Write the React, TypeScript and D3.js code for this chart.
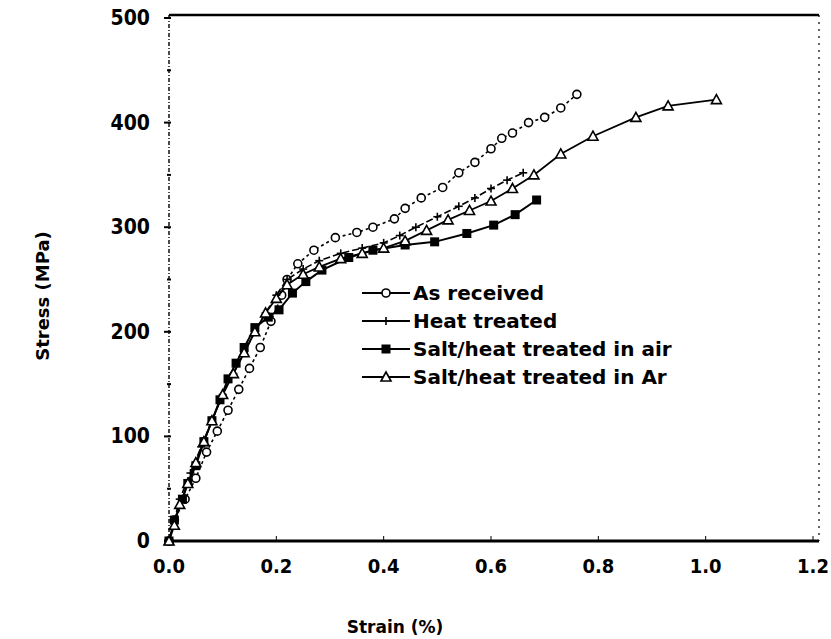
import React from "react";
import * as d3 from "d3";

const xTicks = [0, 0.2, 0.4, 0.6, 0.8, 1.0, 1.2];
const yTicks = [0, 100, 200, 300, 400, 500];

const asReceivedStrain = [0, 0.01, 0.03, 0.05, 0.07, 0.09, 0.11, 0.13, 0.15, 0.17, 0.19, 0.21, 0.22, 0.24, 0.27, 0.31, 0.35, 0.38, 0.42, 0.44, 0.47, 0.51, 0.54, 0.57, 0.6, 0.62, 0.64, 0.67, 0.7, 0.73, 0.76];
const asReceivedStress = [0, 20, 40, 60, 85, 105, 125, 145, 165, 185, 210, 235, 250, 265, 278, 290, 295, 300, 308, 318, 328, 338, 352, 362, 375, 385, 390, 400, 405, 414, 427];

const heatStrain = [0, 0.01, 0.02, 0.04, 0.06, 0.08, 0.1, 0.12, 0.14, 0.16, 0.18, 0.2, 0.22, 0.25, 0.28, 0.32, 0.36, 0.4, 0.43, 0.46, 0.5, 0.54, 0.57, 0.6, 0.63, 0.66];
const heatStress = [0, 20, 40, 65, 90, 115, 140, 160, 180, 200, 218, 235, 250, 260, 268, 275, 280, 285, 292, 300, 310, 320, 328, 337, 345, 352];

const airStrain = [0, 0.01, 0.025, 0.035, 0.05, 0.065, 0.08, 0.095, 0.11, 0.125, 0.14, 0.16, 0.185, 0.205, 0.23, 0.255, 0.285, 0.335, 0.38, 0.44, 0.495, 0.555, 0.605, 0.645, 0.685];
const airStress = [0, 20, 40, 55, 72, 95, 115, 135, 155, 170, 185, 204, 214, 221, 237, 248, 259, 271, 278, 283, 286, 294, 302, 312, 326];

const arStrain = [0, 0.01, 0.02, 0.035, 0.05, 0.065, 0.08, 0.1, 0.12, 0.14, 0.16, 0.18, 0.2, 0.22, 0.25, 0.28, 0.32, 0.36, 0.4, 0.44, 0.48, 0.52, 0.56, 0.6, 0.64, 0.68, 0.73, 0.79, 0.87, 0.93, 1.02];
const arStress = [0, 15, 35, 55, 75, 95, 115, 140, 160, 180, 200, 218, 232, 245, 255, 262, 270, 275, 280, 287, 297, 307, 316, 325, 337, 350, 370, 387, 405, 416, 422];

const seriesNames = ["As received", "Heat treated", "Salt/heat treated in air", "Salt/heat treated in Ar"];

const W = 831, H = 639;
const X0 = 169, X1 = 813, Y0 = 541, Y1 = 18;
const x = d3.scaleLinear().domain([0, 1.2]).range([X0, X1]);
const y = d3.scaleLinear().domain([0, 500]).range([Y0, Y1]);

const tickFont = "'DejaVu Sans Condensed', 'Liberation Sans Narrow', sans-serif";
const legendFont = "'DejaVu Sans', 'Liberation Sans', sans-serif";

type Pt = [number, number];
const zip = (a: number[], b: number[]): Pt[] => a.map((v, i) => [v, b[i]]);

const line = d3.line<Pt>().x(d => x(d[0])).y(d => y(d[1]));

function Marker({ kind, cx, cy }: { kind: number; cx: number; cy: number }) {
  if (kind === 0) return <circle cx={cx} cy={cy} r={4} fill="#fff" stroke="#000" strokeWidth={1.6} />;
  if (kind === 1)
    return (
      <g stroke="#000" strokeWidth={1.6}>
        <line x1={cx - 4} y1={cy} x2={cx + 4} y2={cy} />
        <line x1={cx} y1={cy - 4} x2={cx} y2={cy + 4} />
      </g>
    );
  if (kind === 2) return <rect x={cx - 4.5} y={cy - 4.5} width={9} height={9} fill="#000" />;
  return <path d={`M${cx - 5},${cy + 4}L${cx},${cy - 5}L${cx + 5},${cy + 4}Z`} fill="#fff" stroke="#000" strokeWidth={1.6} />;
}

export default function App() {
  const series: { pts: Pt[]; dash?: string; w: number }[] = [
    { pts: zip(asReceivedStrain, asReceivedStress), dash: "3,3", w: 1.6 },
    { pts: zip(heatStrain, heatStress), dash: "7,3", w: 1.6 },
    { pts: zip(airStrain, airStress), w: 2 },
    { pts: zip(arStrain, arStress), w: 1.8 },
  ];
  const legendY = [293, 321, 349, 377];
  const minorY = d3.range(50, 500, 100);
  return (
    <svg width={W} height={H} style={{ position: "absolute", left: 0, top: 0, background: "#fff" }}>
      <rect width={W} height={H} fill="#fff" />
      {/* frame */}
      <line x1={X0} y1={15} x2={X1 + 6} y2={15} stroke="#000" strokeWidth={2.5} />
      <line x1={X1 + 6} y1={15} x2={X1 + 6} y2={Y0} stroke="#000" strokeWidth={1.2} strokeDasharray="2,5" />
      <line x1={X0} y1={15} x2={X0} y2={Y0} stroke="#000" strokeWidth={1.4} strokeDasharray="4,2,1,2" />
      <line x1={X0} y1={Y0} x2={X1 + 6} y2={Y0} stroke="#000" strokeWidth={3} />
      {/* y ticks */}
      {yTicks.map(t => (
        <g key={t}>
          <line x1={X0 - 5} y1={y(t)} x2={X0 + 2} y2={y(t)} stroke="#000" strokeWidth={2} />
          <text x={150} y={y(t)} textAnchor="end" dominantBaseline="central" fontFamily={tickFont} fontWeight="bold" fontSize={21} fill="#000">
            {t}
          </text>
        </g>
      ))}
      {minorY.map(t => (
        <line key={t} x1={X0 - 2} y1={y(t)} x2={X0 + 2} y2={y(t)} stroke="#000" strokeWidth={2} />
      ))}
      {/* x ticks */}
      {xTicks.map(t => (
        <g key={t}>
          <line x1={x(t)} y1={Y0} x2={x(t)} y2={Y0 - 5} stroke="#000" strokeWidth={1} />
          <text x={x(t)} y={566} textAnchor="middle" dominantBaseline="central" fontFamily={tickFont} fontWeight="bold" fontSize={20} fill="#000">
            {t.toFixed(1)}
          </text>
        </g>
      ))}
      {/* series */}
      {series.map((s, i) => (
        <g key={i}>
          <path d={line(s.pts) || ""} fill="none" stroke="#000" strokeWidth={s.w} strokeDasharray={s.dash} />
          {s.pts.map((p, j) => (
            <Marker key={j} kind={i} cx={x(p[0])} cy={y(p[1])} />
          ))}
        </g>
      ))}
      {/* legend */}
      {seriesNames.map((n, i) => (
        <g key={n}>
          <line x1={362} y1={legendY[i]} x2={410} y2={legendY[i]} stroke="#000" strokeWidth={2} />
          <Marker kind={i} cx={386} cy={legendY[i]} />
          <text x={413} y={legendY[i]} dominantBaseline="central" fontFamily={legendFont} fontWeight="bold" fontSize={20} fill="#000">
            {n}
          </text>
        </g>
      ))}
      {/* axis titles */}
      <text x={395} y={627} textAnchor="middle" dominantBaseline="central" fontFamily={legendFont} fontWeight="bold" fontSize={17} fill="#000">
        Strain (%)
      </text>
      <text transform={`translate(42,${296}) rotate(-90)`} textAnchor="middle" dominantBaseline="central" fontFamily={legendFont} fontWeight="bold" fontSize={18} fill="#000">
        Stress (MPa)
      </text>
    </svg>
  );
}
